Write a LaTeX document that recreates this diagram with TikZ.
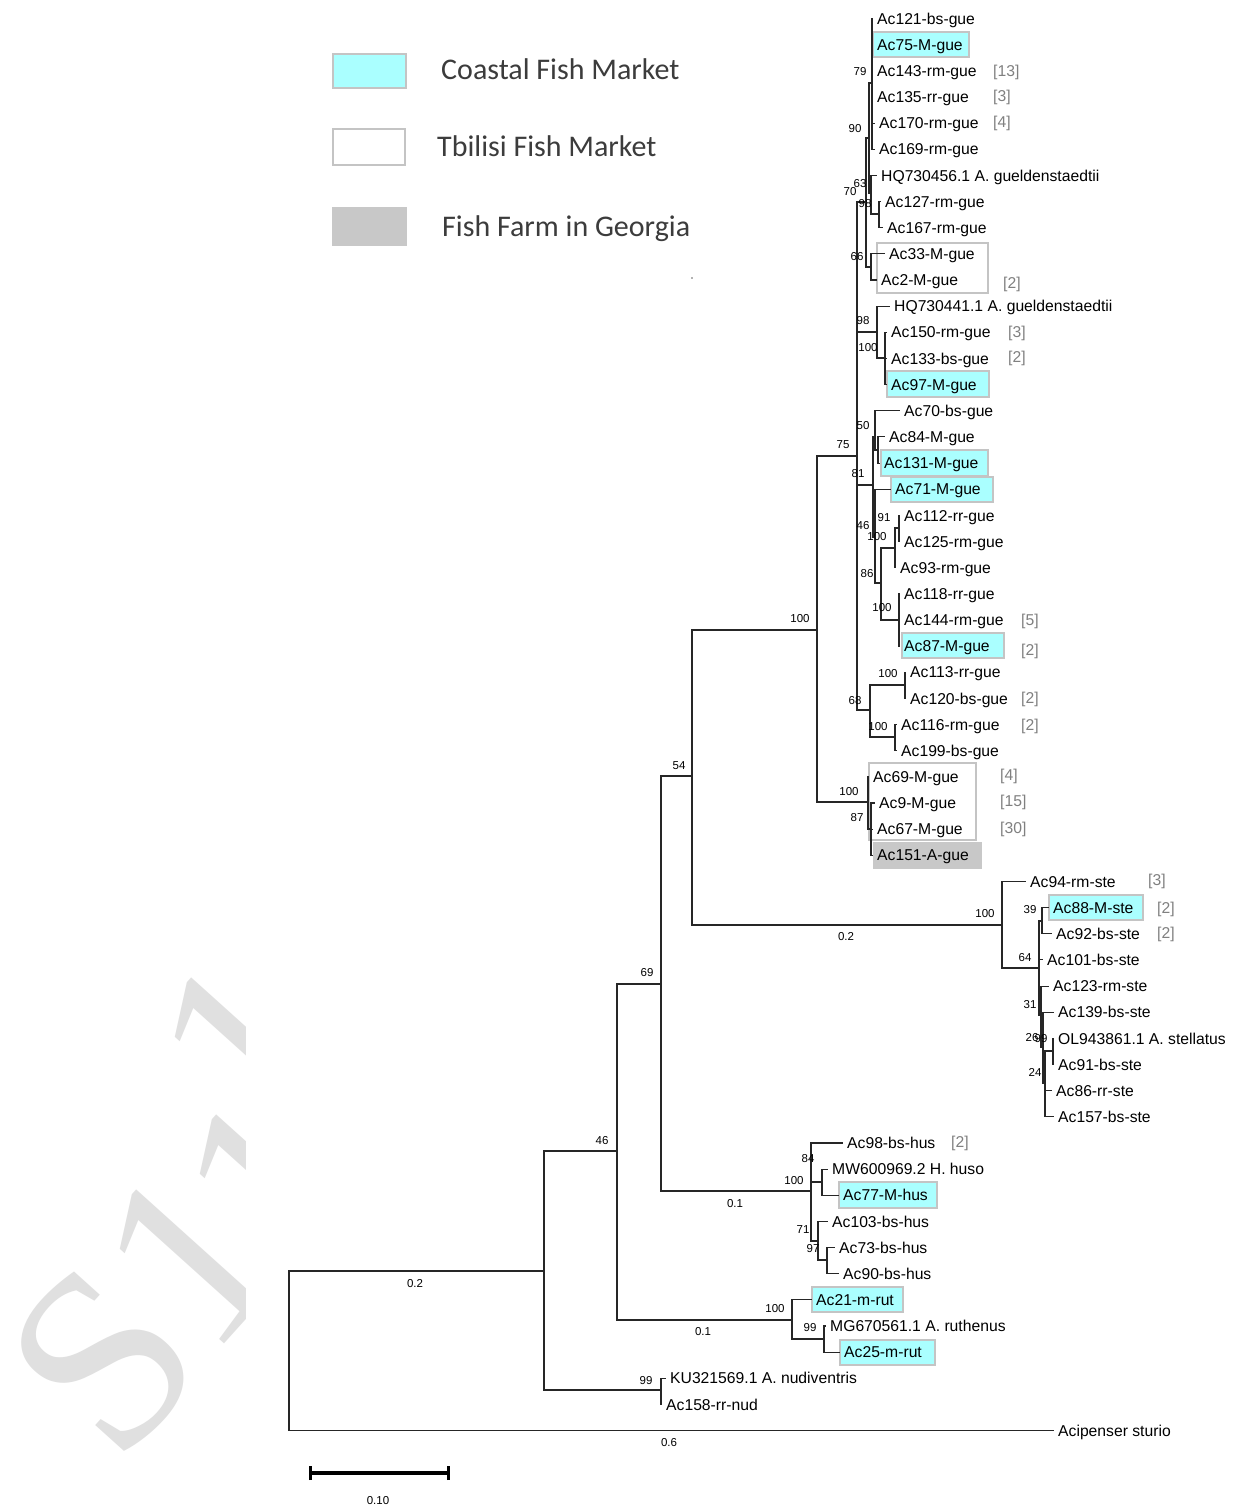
\documentclass[tikz,border=0pt]{standalone}
\usepackage{fontspec}
\newfontfamily\myTree{Liberation Sans}
\newfontfamily\myLeg{Carlito}
\newfontfamily\myWm{Liberation Serif}
\definecolor{cyfill}{RGB}{170,255,255}
\definecolor{boxline}{RGB}{196,196,196}
\definecolor{farmgray}{RGB}{200,200,200}
\definecolor{cntgray}{RGB}{128,128,128}
\definecolor{wmgray}{RGB}{224,224,224}
\definecolor{legtext}{RGB}{60,60,60}
\newcommand\myLeafFont{\myTree\fontsize{15.7}{18}\selectfont}
\newcommand\myBsFont{\myTree\fontsize{11.5}{13}\selectfont}
\newcommand\myLegFont{\myLeg\fontsize{30}{34}\selectfont}
\tikzset{
  br/.style={draw=black!85, line width=1.1pt},
  leaf/.style={anchor=west, inner xsep=4.5pt, inner ysep=0pt, text height=11.2pt, text depth=0pt, font=\myLeafFont},
  cnt/.style={anchor=west, inner sep=0pt, text height=11.2pt, text depth=0pt, font=\myLeafFont, text=cntgray},
  bs/.style={inner sep=0pt, text height=8.2pt, text depth=0pt, font=\myBsFont},
  cybox/.style={fill=cyfill, draw=boxline, line width=1.2pt},
  whbox/.style={fill=white, draw=boxline, line width=1.2pt},
  grbox/.style={fill=farmgray, draw=farmgray, line width=1.2pt},
  legtxt/.style={anchor=west, inner sep=0pt, text height=19.3pt, text depth=0pt, font=\myLegFont, text=legtext},
  wm/.style={rotate=48, inner sep=0pt, text=wmgray, font=\myWm\fontsize{255}{255}\selectfont}
}
\begin{document}
\begin{tikzpicture}[x=1pt,y=-1pt]
\useasboundingbox (0,0) rectangle (1237,1508);
\fill[white] (0,0) rectangle (1237,1508);

% watermark
\begin{scope}
\clip (0,900) rectangle (245,1508);
\node[wm] (wmS) at (103,1360) {S};
\node[wm] (wm1) at (190,1257) {1};
\node[wm] (wm2) at (270,1182) {1};
\node[wm] (wm3) at (245,1045) {1};
\end{scope}

% legend
\draw[cybox] (333,54) rectangle (406,88);
\node[legtxt] (lg1) at (441,70) {Coastal Fish Market};
\draw[whbox] (333,129) rectangle (405,165);
\node[legtxt] (lg2) at (437,147) {Tbilisi Fish Market};
\draw[grbox] (333,208) rectangle (406,245);
\node[legtxt] (lg3) at (442,227) {Fish Farm in Georgia};
\fill[black!60] (692,278) circle (0.8);

% highlight boxes
\draw[cybox] (873,32) rectangle (969,57);
\draw[whbox] (877,243) rectangle (988,293);
\draw[cybox] (887,371) rectangle (989,397);
\draw[cybox] (881,450) rectangle (988,476);
\draw[cybox] (891,477) rectangle (993,502);
\draw[cybox] (902,633) rectangle (1004,658);
\draw[whbox] (869,763) rectangle (976,840);
\draw[grbox] (874,843) rectangle (981,868);
\draw[cybox] (1049,895) rectangle (1143,920);
\draw[cybox] (839,1182) rectangle (937,1208);
\draw[cybox] (812,1287) rectangle (903,1312);
\draw[cybox] (840,1340) rectangle (935,1365);

% leaves
\node[leaf] (l0) at (872.5,18.5) {Ac121-bs-gue};
\node[leaf] (l1) at (872.5,44.7) {Ac75-M-gue};
\node[leaf] (l2) at (872.5,70.8) {Ac143-rm-gue};
\node[leaf] (l3) at (872.5,97) {Ac135-rr-gue};
\node[leaf] (l4) at (874.5,123.1) {Ac170-rm-gue};
\node[leaf] (l5) at (874.5,149.3) {Ac169-rm-gue};
\node[leaf] (l6) at (876.5,175.4) {HQ730456.1 A. gueldenstaedtii};
\node[leaf] (l7) at (880.5,201.6) {Ac127-rm-gue};
\node[leaf] (l8) at (882.5,227.7) {Ac167-rm-gue};
\node[leaf] (l9) at (884.5,253.9) {Ac33-M-gue};
\node[leaf] (l10) at (876.5,280) {Ac2-M-gue};
\node[leaf] (l11) at (889.5,306.2) {HQ730441.1 A. gueldenstaedtii};
\node[leaf] (l12) at (886.5,332.3) {Ac150-rm-gue};
\node[leaf] (l13) at (886.5,358.5) {Ac133-bs-gue};
\node[leaf] (l14) at (886.5,384.6) {Ac97-M-gue};
\node[leaf] (l15) at (899.5,410.8) {Ac70-bs-gue};
\node[leaf] (l16) at (884.5,436.9) {Ac84-M-gue};
\node[leaf] (l17) at (879.5,463.1) {Ac131-M-gue};
\node[leaf] (l18) at (890.5,489.2) {Ac71-M-gue};
\node[leaf] (l19) at (899.5,515.4) {Ac112-rr-gue};
\node[leaf] (l20) at (899.5,541.5) {Ac125-rm-gue};
\node[leaf] (l21) at (895.5,567.7) {Ac93-rm-gue};
\node[leaf] (l22) at (899.5,593.8) {Ac118-rr-gue};
\node[leaf] (l23) at (899.5,620) {Ac144-rm-gue};
\node[leaf] (l24) at (899.5,646.1) {Ac87-M-gue};
\node[leaf] (l25) at (905.5,672.3) {Ac113-rr-gue};
\node[leaf] (l26) at (905.5,698.4) {Ac120-bs-gue};
\node[leaf] (l27) at (896.5,724.6) {Ac116-rm-gue};
\node[leaf] (l28) at (896.5,750.7) {Ac199-bs-gue};
\node[leaf] (l29) at (868.5,776.9) {Ac69-M-gue};
\node[leaf] (l30) at (874.5,803) {Ac9-M-gue};
\node[leaf] (l31) at (872.5,829.2) {Ac67-M-gue};
\node[leaf] (l32) at (872.5,855.3) {Ac151-A-gue};
\node[leaf] (l33) at (1025.5,881.5) {Ac94-rm-ste};
\node[leaf] (l34) at (1048.5,907.6) {Ac88-M-ste};
\node[leaf] (l35) at (1051.5,933.8) {Ac92-bs-ste};
\node[leaf] (l36) at (1042.5,959.9) {Ac101-bs-ste};
\node[leaf] (l37) at (1048.5,986.1) {Ac123-rm-ste};
\node[leaf] (l38) at (1053.5,1012.2) {Ac139-bs-ste};
\node[leaf] (l39) at (1053.5,1038.4) {OL943861.1 A. stellatus};
\node[leaf] (l40) at (1053.5,1064.5) {Ac91-bs-ste};
\node[leaf] (l41) at (1051.5,1090.7) {Ac86-rr-ste};
\node[leaf] (l42) at (1053.5,1116.8) {Ac157-bs-ste};
\node[leaf] (l43) at (842.5,1143) {Ac98-bs-hus};
\node[leaf] (l44) at (827.5,1169.1) {MW600969.2 H. huso};
\node[leaf] (l45) at (838.5,1195.3) {Ac77-M-hus};
\node[leaf] (l46) at (827.5,1221.4) {Ac103-bs-hus};
\node[leaf] (l47) at (834.5,1247.6) {Ac73-bs-hus};
\node[leaf] (l48) at (838.5,1273.7) {Ac90-bs-hus};
\node[leaf] (l49) at (811.5,1299.9) {Ac21-m-rut};
\node[leaf] (l50) at (825.5,1326) {MG670561.1 A. ruthenus};
\node[leaf] (l51) at (839.5,1352.2) {Ac25-m-rut};
\node[leaf] (l52) at (665.5,1378.3) {KU321569.1 A. nudiventris};
\node[leaf] (l53) at (661.5,1404.5) {Ac158-rr-nud};
\node[leaf] (l54) at (1053.5,1430.6) {Acipenser sturio};

% internal nodes
\coordinate (R) at (289,1350.5);
\coordinate (nb) at (544,1271);
\coordinate (n46) at (617,1151);
\coordinate (nnud) at (661,1390);
\coordinate (n69) at (661,984);
\coordinate (nrut) at (792,1320);
\coordinate (n54) at (692,776);
\coordinate (nhus) at (811,1191);
\coordinate (ngue) at (817,630);
\coordinate (nste) at (1002,925);
\coordinate (n75) at (857,456);
\coordinate (n100b) at (868,802);
\coordinate (n70) at (866,202);
\coordinate (n98b) at (877,332);
\coordinate (n81) at (873,485);
\coordinate (n68) at (870,710);
\coordinate (n90) at (869,138);
\coordinate (n66) at (871,267);
\coordinate (n79) at (872,83);
\coordinate (n63) at (871,193);
\coordinate (n98) at (879,214);
\coordinate (n100c) at (885,358);
\coordinate (n50) at (875,437);
\coordinate (nx) at (878,450);
\coordinate (n46b) at (875,537);
\coordinate (n86) at (881,583);
\coordinate (n100f) at (895,548);
\coordinate (n91) at (899,528);
\coordinate (n100g) at (899,620);
\coordinate (n100d) at (905,685);
\coordinate (n100e) at (895,737);
\coordinate (n87) at (871,829);
\coordinate (n64) at (1039,968);
\coordinate (n39) at (1042,921);
\coordinate (n31) at (1041,1015);
\coordinate (n26) at (1043,1047);
\coordinate (n24) at (1045,1083);
\coordinate (n99s) at (1053,1051);
\coordinate (n84) at (822,1182);
\coordinate (n71) at (818,1241);
\coordinate (n97) at (827,1260);
\coordinate (n99r) at (824,1339);

% branches
\foreach \a/\b in {R/nb, R/l54.west, nb/n46, nb/nnud, n46/n69, n46/nrut,
  n69/n54, n69/nhus, n54/ngue, n54/nste, ngue/n75, ngue/n100b,
  n75/n70, n75/n98b, n75/n81, n75/n68, n70/n90, n70/n66, n90/n79, n90/n63,
  n79/l0.west, n79/l1.west, n79/l2.west, n79/l3.west, n79/l4.west, n79/l5.west,
  n63/l6.west, n63/n98, n98/l7.west, n98/l8.west, n66/l9.west, n66/l10.west,
  n98b/l11.west, n98b/n100c, n100c/l12.west, n100c/l13.west, n100c/l14.west,
  n81/n50, n81/n46b, n50/l15.west, n50/nx, nx/l16.west, nx/l17.west,
  n46b/l18.west, n46b/n86, n86/n100f, n86/n100g, n100f/n91, n100f/l21.west,
  n91/l19.west, n91/l20.west, n100g/l22.west, n100g/l23.west, n100g/l24.west,
  n68/n100d, n68/n100e, n100d/l25.west, n100d/l26.west, n100e/l27.west, n100e/l28.west,
  n100b/l29.west, n100b/n87, n87/l30.west, n87/l31.west, n87/l32.west,
  nste/l33.west, nste/n64, n64/n39, n64/l36.west, n64/n31, n39/l34.west, n39/l35.west,
  n31/l37.west, n31/n26, n26/l38.west, n26/n24, n24/n99s, n24/l41.west, n24/l42.west,
  n99s/l39.west, n99s/l40.west,
  nhus/l43.west, nhus/n84, nhus/n71, n84/l44.west, n84/l45.west,
  n71/l46.west, n71/n97, n97/l47.west, n97/l48.west,
  nrut/l49.west, nrut/n99r, n99r/l50.west, n99r/l51.west,
  nnud/l52.west, nnud/l53.west}
  \draw[br] (\a) |- (\b);

% copy counts
\foreach \x/\y/\t [count=\i] in {993/71/[13], 993/96/[3], 993/122/[4], 1003/283/[2],
  1008/332/[3], 1008/357/[2], 1021/620/[5], 1021/650/[2], 1021/698/[2], 1021/725/[2],
  1000/775/[4], 1000/801/[15], 1000/828/[30], 1148/880/[3], 1157/908/[2], 1157/933/[2],
  951/1142/[2]}
  \node[cnt] (cn\i) at (\x,\y) {\t};

% bootstrap values and branch lengths
\foreach \x/\y/\t [count=\i] in {860/71/79, 855/128/90, 860/183/63, 850/191/70, 865/203/98,
  857/256/66, 863/320/98, 868/347/100, 863/425/50, 843/444/75, 858/473/81, 884/517/91,
  863/525/46, 877/536/100, 867/573/86, 882/607/100, 800/618/100, 888/673/100, 855/700/68,
  878/726/100, 679/765/54, 849/791/100, 857/817/87, 985/913/100, 1030/909/39, 1025/957/64,
  647/972/69, 1030/1004/31, 1032/1037/26, 1041/1038/99, 1035/1072/24, 602/1140/46,
  808/1158/84, 794/1180/100, 803/1229/71, 813/1248/97, 775/1308/100, 810/1327/99,
  646/1380/99, 846/936/0.2, 735/1203/0.1, 415/1283/0.2, 703/1331/0.1, 669/1442/0.6,
  378/1500/0.10}
  \node[bs] (bs\i) at (\x,\y) {\t};

% scale bar
\coordinate (sb1) at (310,1473);
\coordinate (sb2) at (448,1473);
\draw[line width=4pt, black] (sb1) -- (sb2);
\draw[line width=3pt, black] ([yshift=-7pt]sb1) -- ([yshift=7pt]sb1);
\draw[line width=3pt, black] ([yshift=-7pt]sb2) -- ([yshift=7pt]sb2);
\end{tikzpicture}
\end{document}
